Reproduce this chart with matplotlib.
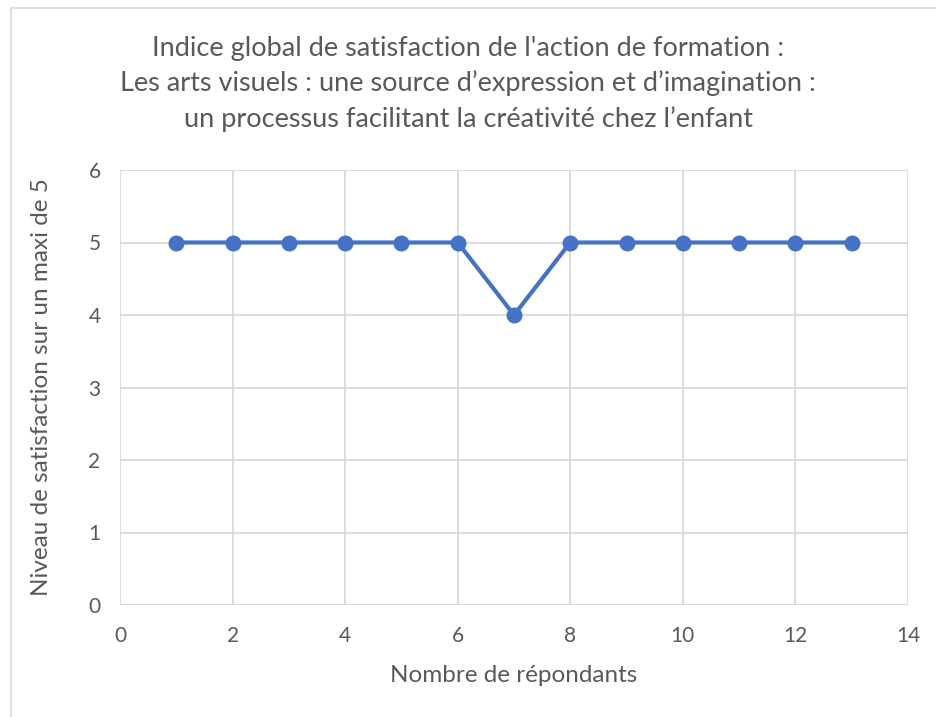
import matplotlib.pyplot as plt
from matplotlib.patches import Rectangle

# data
respondents = [1, 2, 3, 4, 5, 6, 7, 8, 9, 10, 11, 12, 13]
satisfaction = [5, 5, 5, 5, 5, 5, 4, 5, 5, 5, 5, 5, 5]
x_ticks = [0, 2, 4, 6, 8, 10, 12, 14]
y_ticks = [0, 1, 2, 3, 4, 5, 6]

title = ("Indice global de satisfaction de l'action de formation :\n"
         "Les arts visuels : une source d\u2019expression et d\u2019imagination :\n"
         "un processus facilitant la cr\u00e9ativit\u00e9 chez l\u2019enfant")

plt.rcParams['font.family'] = ['Lato', 'DejaVu Sans']
text_col = '#595959'
grid_col = '#d9d9d9'

W, H = 936, 717
fig = plt.figure(figsize=(W / 100, H / 100), dpi=100)

# chart frame (cut off at right and bottom)
fig.patches.append(Rectangle((11 / W, -0.1), 1.2, 1.1 - 8 / H, transform=fig.transFigure,
                             fill=False, edgecolor='#d9d9d9', linewidth=1.2))

ax = fig.add_axes([120 / W, 1 - 605 / H, (908 - 120) / W, (605 - 170) / H])
ax.plot(respondents, satisfaction, color='#4472C4', linewidth=3, marker='o',
        markersize=10.5, zorder=3)

ax.set_xlim(0, 14)
ax.set_ylim(0, 6)
ax.set_xticks(x_ticks)
ax.set_yticks(y_ticks)
ax.grid(True, color=grid_col, linewidth=1.3)
ax.set_axisbelow(True)
for s in ax.spines.values():
    s.set_visible(False)
ax.axhline(0, color=grid_col, linewidth=1.3, zorder=1)
ax.tick_params(length=0, labelsize=15, colors=text_col)
ax.tick_params(axis='x', pad=15)
ax.tick_params(axis='y', pad=14)

ax.set_xlabel('Nombre de r\u00e9pondants', fontsize=17.5, color=text_col, labelpad=14)
ax.set_ylabel('Niveau de satisfaction sur un maxi de 5', fontsize=17.5, color=text_col, labelpad=26)

fig.text(0.5, 1 - 84 / H, title, ha='center', va='center', fontsize=19.5,
         color=text_col, linespacing=1.45)

fig.savefig('out.png', dpi=100)
